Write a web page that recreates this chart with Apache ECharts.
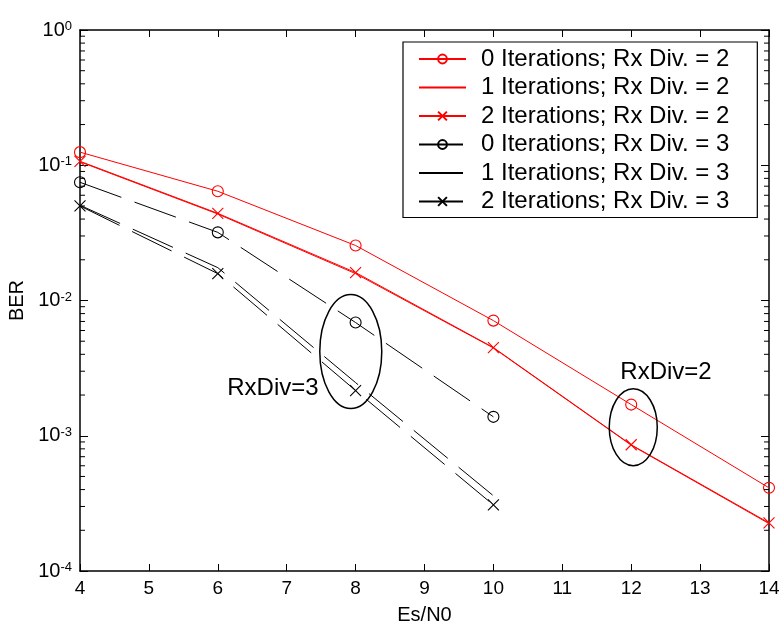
<!DOCTYPE html>
<html><head><meta charset="utf-8">
<script src="https://cdn.jsdelivr.net/npm/echarts@6/dist/echarts.min.js"></script>
<style>html,body{margin:0;padding:0;background:#fff}#c{width:781px;height:624px}</style>
</head><body><div id="c"></div>
<script>
// ---- data ----
const esn0Div2 = [4, 6, 8, 10, 12, 14];
const esn0Div3 = [4, 6, 8, 10];
const ber_it0_div2 = [0.125, 0.0642, 0.0255, 0.0071, 0.0017, 0.000412];
const ber_it1_div2 = [0.106, 0.0436, 0.0158, 0.00446, 0.000852, 0.000224];
const ber_it2_div2 = [0.107, 0.0441, 0.0161, 0.00449, 0.000858, 0.000227];
const ber_it0_div3 = [0.0748, 0.0319, 0.00687, 0.00138];
const ber_it1_div3 = [0.0506, 0.0175, 0.00247, 0.00036];
const ber_it2_div3 = [0.0500, 0.0158, 0.00216, 0.000308];
const seriesNames = [
  '0 Iterations; Rx Div. = 2', '1 Iterations; Rx Div. = 2', '2 Iterations; Rx Div. = 2',
  '0 Iterations; Rx Div. = 3', '1 Iterations; Rx Div. = 3', '2 Iterations; Rx Div. = 3'
];
const xTickValues = [4, 5, 6, 7, 8, 9, 10, 11, 12, 13, 14];
const yMinorTicks = [
  2e-4, 3e-4, 4e-4, 5e-4, 6e-4, 7e-4, 8e-4, 9e-4,
  2e-3, 3e-3, 4e-3, 5e-3, 6e-3, 7e-3, 8e-3, 9e-3,
  2e-2, 3e-2, 4e-2, 5e-2, 6e-2, 7e-2, 8e-2, 9e-2,
  0.2, 0.3, 0.4, 0.5, 0.6, 0.7, 0.8, 0.9
];
const ellipseX = [7.93, 12.03];
const ellipseY = [0.00419, 0.001156];
const noteX = [6.80, 12.505];
const noteY = [0.00225, 0.00295];
const noteText = ['RxDiv=3', 'RxDiv=2'];

// ---- styling ----
const FONT = "'Liberation Sans', Arial, Helvetica, sans-serif";
const RED = '#ff0000', BLK = '#000000';
const XMARK = 'path://M0,0L10,10M10,0L0,10';
const DASH = [44, 14];
const ellipseR = [[31, 57], [24, 38.5]];
const seriesHasMarker = [true, false, true, true, false, true];

function pairs(xs, ys) { return xs.map((x, i) => [x, ys[i]]); }
function lineSeries(name, xs, ys, color, symbol, dashed, z) {
  return {
    name, type: 'line', data: pairs(xs, ys), z: z,
    symbol: symbol || 'none', symbolSize: 11, showSymbol: !!symbol,
    lineStyle: { color, width: 1, type: dashed ? DASH : 'solid' },
    itemStyle: { color: 'rgba(0,0,0,0)', borderColor: color, borderWidth: 1.1 },
    emphasis: { disabled: true }, silent: true, clip: false
  };
}

const chart = echarts.init(document.getElementById('c'), null, { renderer: 'canvas' });
const axisLineStyle = { color: BLK, width: 1.5 };
const option = {
  animation: false,
  backgroundColor: '#fff',
  textStyle: { fontFamily: FONT },
  grid: { left: 80, right: 12, top: 30, bottom: 53, containLabel: false, outerBoundsMode: 'none' },
  legend: {
    orient: 'vertical', left: 403, top: 42,
    data: seriesNames.map((n, i) => seriesHasMarker[i] ? { name: n } :
      { name: n, itemStyle: { color: 'rgba(0,0,0,0)', borderColor: 'rgba(0,0,0,0)', borderWidth: 0 } }),
    itemWidth: 47, itemHeight: 11, itemGap: 4.5,
    padding: [5, 28, 4, 15],
    borderColor: BLK, borderWidth: 1.2, backgroundColor: '#fff',
    textStyle: { fontFamily: FONT, fontSize: 24, lineHeight: 24, color: BLK, padding: [0, 0, 0, 10] },
    selectedMode: false
  },
  xAxis: [{
    type: 'value', min: 4, max: 14, interval: 1, position: 'bottom',
    name: 'Es/N0', nameLocation: 'middle', nameGap: 34,
    nameTextStyle: { fontFamily: FONT, fontSize: 20, color: BLK },
    axisLine: { onZero: false, lineStyle: axisLineStyle },
    axisTick: { inside: true, length: 7, lineStyle: { color: BLK } },
    axisLabel: { fontFamily: FONT, fontSize: 19, color: BLK, margin: 8,
      customValues: xTickValues },
    splitLine: { show: false }
  }, {
    type: 'value', min: 4, max: 14, interval: 1, position: 'top',
    axisLine: { onZero: false, lineStyle: axisLineStyle },
    axisTick: { inside: true, length: 7, lineStyle: { color: BLK } },
    axisLabel: { show: false }, splitLine: { show: false }
  }],
  yAxis: [{
    type: 'log', logBase: 10, min: 1e-4, max: 1, position: 'left',
    name: 'BER', nameLocation: 'middle', nameGap: 52,
    nameTextStyle: { fontFamily: FONT, fontSize: 20, color: BLK },
    axisLine: { onZero: false, lineStyle: axisLineStyle },
    axisTick: { inside: true, length: 8, lineStyle: { color: BLK } },
    axisLabel: {
      margin: 8, color: BLK,
      formatter: v => '{b|10}{s|' + Math.round(Math.log10(v)) + '}',
      rich: {
        b: { fontFamily: FONT, fontSize: 20, lineHeight: 20, padding: [8, 0, 8, 0], color: BLK },
        s: { fontFamily: FONT, fontSize: 13, lineHeight: 13, verticalAlign: 'top', color: BLK }
      }
    },
    splitLine: { show: false }, minorTick: { show: false }
  }, {
    type: 'log', logBase: 10, min: 1e-4, max: 1, position: 'right',
    axisLine: { onZero: false, lineStyle: axisLineStyle },
    axisTick: { inside: true, length: 8, lineStyle: { color: BLK } },
    axisLabel: { show: false }, splitLine: { show: false }
  }],
  series: [
    lineSeries(seriesNames[0], esn0Div2, ber_it0_div2, RED, 'circle', false, 3),
    lineSeries(seriesNames[1], esn0Div2, ber_it1_div2, RED, null, false, 3),
    lineSeries(seriesNames[2], esn0Div2, ber_it2_div2, RED, XMARK, false, 3),
    lineSeries(seriesNames[3], esn0Div3, ber_it0_div3, BLK, 'circle', true, 2),
    lineSeries(seriesNames[4], esn0Div3, ber_it1_div3, BLK, null, true, 2),
    lineSeries(seriesNames[5], esn0Div3, ber_it2_div3, BLK, XMARK, true, 2),
    {
      name: 'minorTicks', type: 'custom', silent: true, clip: false, z: 5,
      data: yMinorTicks.map(v => [4, v]),
      renderItem: (params, api) => {
        const v = api.value(1);
        const l = api.coord([4, v]);
        const r = api.coord([14, v]);
        const st = { stroke: BLK, lineWidth: 1 };
        return { type: 'group', children: [
          { type: 'line', shape: { x1: l[0], y1: l[1], x2: l[0] + 5, y2: l[1] }, style: st },
          { type: 'line', shape: { x1: r[0], y1: r[1], x2: r[0] - 5, y2: r[1] }, style: st }
        ]};
      }
    },
    {
      name: 'ellipses', type: 'custom', silent: true, clip: false, z: 4,
      data: ellipseX.map((x, i) => [x, ellipseY[i]]),
      renderItem: (params, api) => {
        const c = api.coord([api.value(0), api.value(1)]);
        const rx = ellipseR[params.dataIndex][0], ry = ellipseR[params.dataIndex][1];
        const d = 'M' + (c[0] - rx) + ',' + c[1] +
          ' A' + rx + ',' + ry + ' 0 1 0 ' + (c[0] + rx) + ',' + c[1] +
          ' A' + rx + ',' + ry + ' 0 1 0 ' + (c[0] - rx) + ',' + c[1] + ' Z';
        return { type: 'path', shape: { pathData: d }, style: { fill: 'none', stroke: BLK, lineWidth: 1.5 } };
      }
    },
    {
      name: 'notes', type: 'custom', silent: true, clip: false, z: 4,
      data: noteX.map((x, i) => [x, noteY[i]]),
      renderItem: (params, api) => {
        const c = api.coord([api.value(0), api.value(1)]);
        return { type: 'text', x: c[0], y: c[1], style: {
          text: noteText[params.dataIndex], fontFamily: FONT, fontSize: 24, fill: BLK,
          align: 'center', verticalAlign: 'middle' } };
      }
    }
  ]
};
chart.setOption(option);
</script>
</body></html>
